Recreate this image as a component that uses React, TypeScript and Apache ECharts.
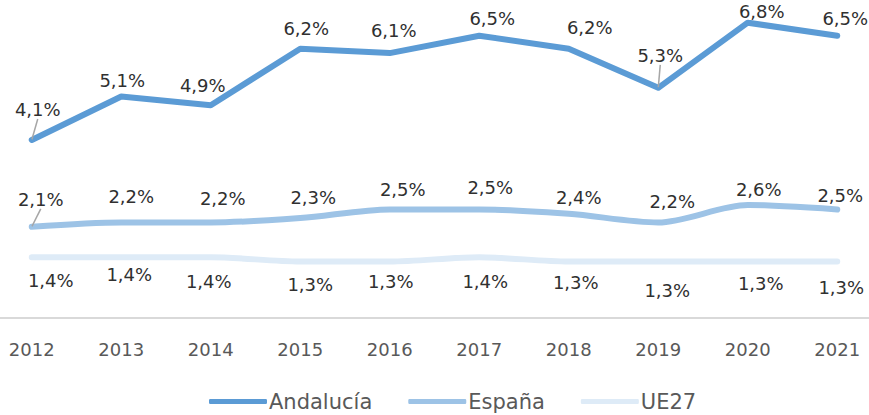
import React, { useEffect, useRef } from "react";
import * as echarts from "echarts";

const years = ["2012", "2013", "2014", "2015", "2016", "2017", "2018", "2019", "2020", "2021"];
const andalucia = [4.1, 5.1, 4.9, 6.2, 6.1, 6.5, 6.2, 5.3, 6.8, 6.5];
const espana = [2.1, 2.2, 2.2, 2.3, 2.5, 2.5, 2.4, 2.2, 2.6, 2.5];
const ue27 = [1.4, 1.4, 1.4, 1.3, 1.3, 1.4, 1.3, 1.3, 1.3, 1.3];
const seriesNames = ["Andalucía", "España", "UE27"];

// label placement (style): offset of label centre from its point
const andaluciaOffsets = [[6, -30], [1, -16], [-8, -20], [6, -20], [4, -23], [13, -17], [21, -21], [2, -32], [14, -11], [8, -17]];
const espanaOffsets = [[9, -27], [10, -26], [12, -24], [13, -21], [13, -20], [11, -22], [10, -16], [14, -21], [11, -16], [3, -14]];
const ue27Offsets = [[19, 23], [8, 17], [-2, 24], [10, 23], [1, 20], [6, 24], [7, 21], [9, 29], [13, 22], [4, 26]];
const andaluciaLeaders = [0, 7];
const espanaLeaders = [0];

const fmt = (v: number) => v.toFixed(1).replace(".", ",") + "%";

function buildData(values: number[], offsets: number[][], leaders: number[]) {
  return values.map((v, i) => ({
    value: v,
    label: { offset: offsets[i] },
    labelLine: { show: leaders.includes(i), lineStyle: { color: "#a6a6a6", width: 1.5 }, length2: 0 },
  }));
}

export default function App() {
  const ref = useRef<HTMLDivElement>(null);
  useEffect(() => {
    if (!ref.current) return;
    const chart = echarts.init(ref.current, null, { renderer: "svg" });
    const labelCommon = {
      show: true,
      position: "inside" as const,
      formatter: (p: any) => fmt(p.value),
      fontFamily: "DejaVu Sans",
      fontSize: 18,
      color: "#303030",
    };
    const colors = ["#5B9BD5", "#9DC3E6", "#DEEBF7"];
    const mk = (name: string, data: any[], color: string, smooth: number | boolean, width: number) => ({
      name,
      type: "line",
      data,
      smooth,
      symbol: "circle",
      symbolSize: 1,
      showSymbol: true,
      itemStyle: { color },
      lineStyle: { color, width, cap: "round", join: "round" },
      label: labelCommon,
      emphasis: { disabled: true },
    });
    chart.setOption({
      animation: false,
      grid: { left: 0, right: 0, top: 14, bottom: 97, containLabel: false },
      legend: {
        data: seriesNames,
        left: 217,
        top: 386,
        icon: "roundRect",
        itemWidth: 58,
        itemHeight: 5,
        itemGap: 36,
        textStyle: { fontFamily: "DejaVu Sans", fontSize: 21, color: "#595959", padding: [0, 0, 0, -3] },
      },
      xAxis: {
        type: "category",
        data: years,
        boundaryGap: true,
        axisLine: { show: true, lineStyle: { color: "#d9d9d9", width: 2 } },
        axisTick: { show: false },
        axisLabel: { fontFamily: "DejaVu Sans", fontSize: 18, color: "#595959", margin: 22 },
        splitLine: { show: false },
      },
      yAxis: {
        type: "value",
        min: 0,
        max: 7,
        show: false,
        splitLine: { show: false },
      },
      series: [
        mk(seriesNames[0], buildData(andalucia, andaluciaOffsets, andaluciaLeaders), colors[0], false, 6),
        mk(seriesNames[1], buildData(espana, espanaOffsets, espanaLeaders), colors[1], 0.3, 6),
        mk(seriesNames[2], buildData(ue27, ue27Offsets, []), colors[2], 0.3, 6),
      ],
    });
    return () => chart.dispose();
  }, []);
  return (
    <div
      ref={ref}
      style={{ position: "fixed", left: -13, top: 0, width: 895, height: 415, background: "#fff" }}
    />
  );
}
